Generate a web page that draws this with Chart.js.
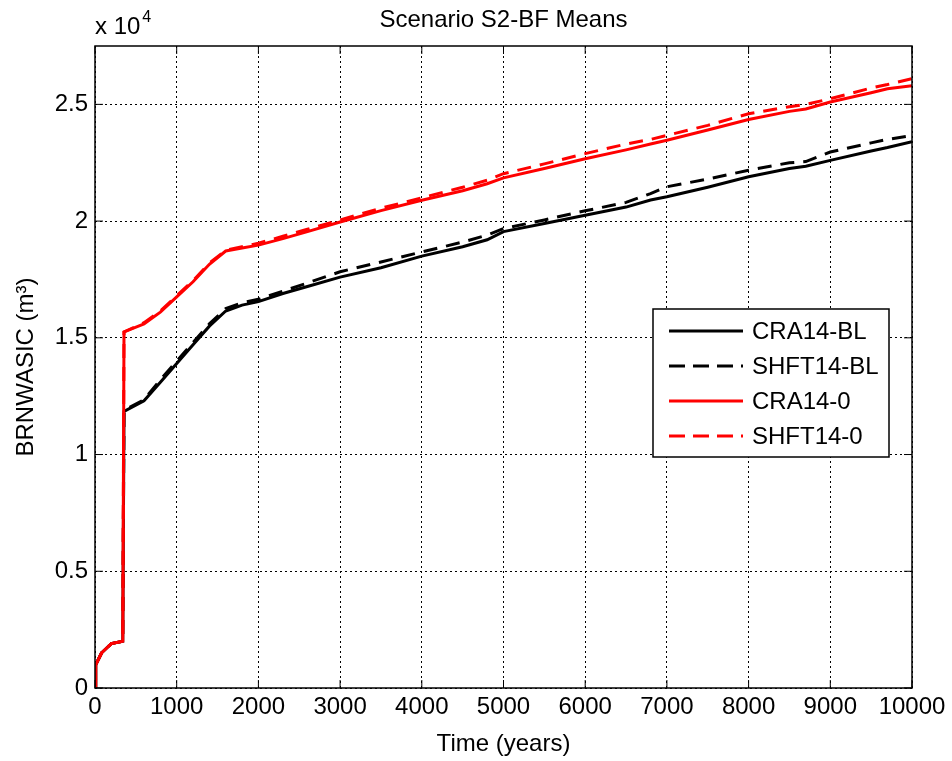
<!DOCTYPE html>
<html>
<head>
<meta charset="utf-8">
<script src="https://cdn.jsdelivr.net/npm/chart.js@4/dist/chart.umd.min.js"></script>
<style>
  body { margin: 0; background: #fff; }
  #wrap { width: 952px; height: 761px; }
</style>
</head>
<body>
<div id="wrap"><canvas id="brnChart" width="952" height="761"></canvas></div>
<script>
// time in years, values in units of 1e4 m^3
const years = [0, 10, 80, 200, 340, 355, 600, 800, 1000, 1200, 1400, 1600, 1800, 2000, 2300, 2600,
  3000, 3500, 4000, 4500, 4800, 5000, 5500, 6000, 6500, 6800, 7000, 7500, 8000, 8500, 8700,
  9000, 9500, 9700, 10000];

const cra14BL = [0, 0.10, 0.15, 0.19, 0.20, 1.185, 1.23, 1.31, 1.39, 1.47, 1.55, 1.615, 1.64, 1.655,
  1.69, 1.72, 1.76, 1.80, 1.85, 1.89, 1.92, 1.955, 1.99, 2.025, 2.06, 2.09, 2.104, 2.145, 2.19,
  2.225, 2.235, 2.26, 2.30, 2.315, 2.34];
const shft14BL = [0, 0.10, 0.15, 0.19, 0.20, 1.19, 1.235, 1.32, 1.40, 1.48, 1.56, 1.625, 1.65, 1.665,
  1.70, 1.735, 1.783, 1.825, 1.868, 1.91, 1.94, 1.968, 2.005, 2.044, 2.08, 2.118, 2.147, 2.18, 2.218,
  2.25, 2.255, 2.296, 2.335, 2.35, 2.367];
const cra140 = [0, 0.10, 0.15, 0.19, 0.20, 1.525, 1.56, 1.61, 1.675, 1.74, 1.815, 1.872, 1.885, 1.897,
  1.925, 1.955, 1.996, 2.045, 2.089, 2.13, 2.16, 2.185, 2.225, 2.267, 2.305, 2.33, 2.346, 2.39, 2.435,
  2.47, 2.48, 2.51, 2.55, 2.567, 2.58];
const shft140 = [0, 0.10, 0.15, 0.19, 0.20, 1.525, 1.565, 1.615, 1.68, 1.745, 1.82, 1.875, 1.89, 1.905,
  1.935, 1.965, 2.005, 2.055, 2.10, 2.145, 2.175, 2.203, 2.245, 2.289, 2.33, 2.35, 2.367, 2.41, 2.46,
  2.49, 2.50, 2.524, 2.57, 2.585, 2.61];

const seriesNames = ['CRA14-BL', 'SHFT14-BL', 'CRA14-0', 'SHFT14-0'];
const seriesValues = [cra14BL, shft14BL, cra140, shft140];
const seriesColors = ['#000000', '#000000', '#ff0000', '#ff0000'];
const seriesDash = [[], [14, 9], [], [14, 9]];

const xTicks = [0, 1000, 2000, 3000, 4000, 5000, 6000, 7000, 8000, 9000, 10000];
const yTicks = [0, 0.5, 1, 1.5, 2, 2.5];

const FONT = 'Arial, "Liberation Sans", Helvetica, sans-serif';

const datasets = seriesNames.map((name, i) => ({
  label: name,
  data: years.map((t, j) => ({ x: t, y: seriesValues[i][j] })),
  borderColor: seriesColors[i],
  borderDash: seriesDash[i],
  borderWidth: 3,
  pointRadius: 0,
  tension: 0,
  fill: false,
  order: seriesNames.length - i,
})).reverse();

const decor = {
  id: 'decor',
  afterDatasetsDraw(chart) {
    const { ctx, chartArea: a, scales } = chart;
    ctx.save();
    // frame
    ctx.strokeStyle = '#000';
    ctx.lineWidth = 1.5;
    ctx.setLineDash([]);
    ctx.strokeRect(a.left, a.top, a.right - a.left, a.bottom - a.top);
    // inward tick marks
    ctx.lineWidth = 1;
    xTicks.forEach(v => {
      const px = scales.x.getPixelForValue(v);
      ctx.beginPath();
      ctx.moveTo(px, a.bottom); ctx.lineTo(px, a.bottom - 8);
      ctx.moveTo(px, a.top); ctx.lineTo(px, a.top + 8);
      ctx.stroke();
    });
    yTicks.forEach(v => {
      const py = scales.y.getPixelForValue(v);
      ctx.beginPath();
      ctx.moveTo(a.left, py); ctx.lineTo(a.left + 8, py);
      ctx.moveTo(a.right, py); ctx.lineTo(a.right - 8, py);
      ctx.stroke();
    });
    // legend
    const lx = 653, ly = 309, lw = 236, lh = 148;
    ctx.fillStyle = '#fff';
    ctx.fillRect(lx, ly, lw, lh);
    ctx.lineWidth = 1.5;
    ctx.strokeRect(lx, ly, lw, lh);
    ctx.font = '24px ' + FONT;
    ctx.textBaseline = 'middle';
    ctx.textAlign = 'left';
    seriesNames.forEach((name, i) => {
      const y = ly + 22 + i * 35;
      ctx.strokeStyle = seriesColors[i];
      ctx.lineWidth = 3;
      ctx.setLineDash(seriesDash[i].length ? [16, 8] : []);
      ctx.beginPath();
      ctx.moveTo(lx + 16, y); ctx.lineTo(lx + 90, y);
      ctx.stroke();
      ctx.setLineDash([]);
      ctx.fillStyle = '#000';
      ctx.fillText(name, lx + 99, y + 1);
    });
    // title and exponent
    ctx.fillStyle = '#000';
    ctx.textBaseline = 'alphabetic';
    ctx.textAlign = 'center';
    ctx.font = '24px ' + FONT;
    ctx.fillText('Scenario S2-BF Means', (a.left + a.right) / 2, 27);
    ctx.textAlign = 'left';
    ctx.font = '24px ' + FONT;
    ctx.fillText('x 10', a.left, 34);
    const w = ctx.measureText('x 10').width;
    ctx.font = '16px ' + FONT;
    ctx.fillText('4', a.left + w + 2, 22);
    ctx.restore();
  }
};

new Chart(document.getElementById('brnChart'), {
  type: 'line',
  data: { datasets },
  options: {
    responsive: false,
    animation: false,
    layout: { padding: { top: 46, right: 40, left: 0, bottom: 0 } },
    plugins: { legend: { display: false }, tooltip: { enabled: false } },
    scales: {
      x: {
        type: 'linear',
        min: 0, max: 10000,
        afterBuildTicks: s => { s.ticks = xTicks.map(v => ({ value: v })); },
        afterFit: s => { s.height = 73; },
        grid: { color: '#000', lineWidth: 1, drawTicks: false },
        border: { display: false, dash: [2, 3] },
        ticks: { color: '#000', font: { size: 24, family: FONT }, padding: 5, maxRotation: 0, callback: v => String(v) },
        title: { display: true, text: 'Time (years)', color: '#000', font: { size: 24, family: FONT }, padding: { top: 0, bottom: 2 } }
      },
      y: {
        type: 'linear',
        min: 0, max: 2.75,
        afterBuildTicks: s => { s.ticks = yTicks.map(v => ({ value: v })); },
        afterFit: s => { s.width = 95; },
        grid: { color: '#000', lineWidth: 1, drawTicks: false },
        border: { display: false, dash: [2, 3] },
        ticks: { color: '#000', font: { size: 24, family: FONT }, padding: 7, callback: v => String(v) },
        title: { display: true, text: 'BRNWASIC (m³)', color: '#000', font: { size: 24, family: FONT }, padding: { top: 12, bottom: 0 } }
      }
    }
  },
  plugins: [decor]
});
</script>
</body>
</html>
